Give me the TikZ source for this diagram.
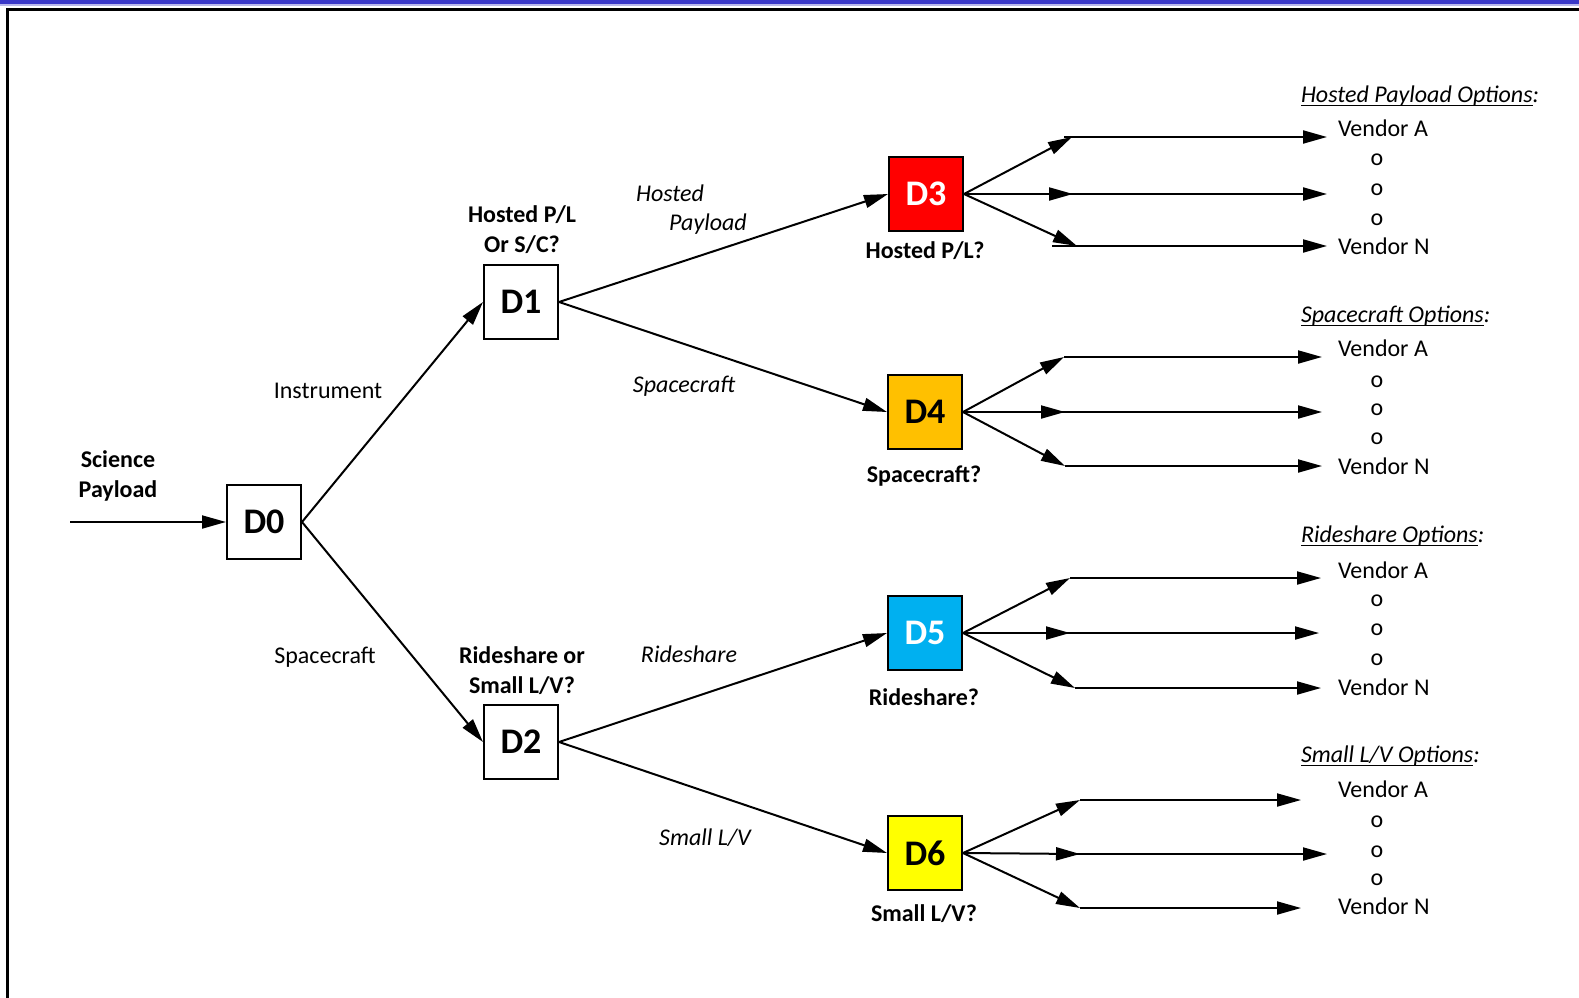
\documentclass[tikz,border=0pt]{standalone}
\usepackage{fontspec}
\setmainfont{Carlito}
\usetikzlibrary{arrows.meta}
\definecolor{barblue}{RGB}{58,56,200}
\definecolor{hostred}{RGB}{255,0,0}
\definecolor{craftorange}{RGB}{255,192,0}
\definecolor{ridecyan}{RGB}{0,176,240}
\definecolor{lvyellow}{RGB}{255,255,0}
\newcommand\optul[1]{\setbox0\hbox{#1}\rlap{\rule[-1.8pt]{\wd0}{0.55pt}}\box0}
\tikzset{
  dbox/.style={draw,line width=1pt,minimum size=37pt,inner sep=0pt,
    font=\fontsize{18}{18}\selectfont\bfseries},
  txt/.style={inner sep=0pt,align=center,font=\fontsize{12}{15}\selectfont},
  btxt/.style={txt,font=\fontsize{12}{15}\selectfont\bfseries},
  itxt/.style={txt,font=\fontsize{12}{15}\selectfont\itshape},
  vtxt/.style={txt,anchor=west},
  head/.style={itxt,anchor=west}
}
\begin{document}
\begin{tikzpicture}[x=0.5pt,y=-0.5pt,line width=1pt,>={Triangle[length=12pt,width=6.5pt]}]
\useasboundingbox (0,0) rectangle (1579,997);
\fill[barblue](0,0)rectangle(1579,4);
\fill[barblue!35](0,4)rectangle(1579,5.5);
\draw[line width=1.4pt](7.5,1020)|-(1600,9.5);
% decision boxes
\node[dbox](D0)at(264,522){D0};
\node[dbox](D1)at(521,302){D1};
\node[dbox](D2)at(521,742){D2};
\node[dbox,fill=hostred,text=white](D3)at(926,194){D3};
\node[dbox,fill=craftorange](D4)at(925,412){D4};
\node[dbox,fill=ridecyan,text=white](D5)at(925,633){D5};
\node[dbox,fill=lvyellow](D6)at(925,853){D6};
\coordinate(in)at(70,522);
\draw[->](in)--(D0);
\draw[->](D0.east)--(D1.west);
\draw[->](D0.east)--(D2.west);
\draw[->](D1.east)--(D3.west);
\draw[->](D1.east)--(D4.west);
\draw[->](D2.east)--(D5.west);
\draw[->](D2.east)--(D6.west);
% labels
\node[btxt](sci)at(118,476){Science\\Payload};
\node[txt](ins)at(328,391){Instrument};
\node[txt](spc)at(325,657){Spacecraft};
\node[btxt](q1)at(522,230){Hosted P/L\\Or S/C?};
\node[btxt](q2)at(522,671){Rideshare or\\Small L/V?};
\node[itxt](hst)at(670,193){Hosted};
\node[itxt](pld)at(708,224){Payload};
\node[itxt](scr)at(684,386){Spacecraft};
\node[itxt](rsh)at(689,654){Rideshare};
\node[itxt](slv)at(705,838){Small L/V};
\node[btxt](q3)at(925,251){Hosted P/L?};
\node[btxt](q4)at(924,476){Spacecraft?};
\node[btxt](q5)at(924,697){Rideshare?};
\node[btxt](q6)at(924,914){Small L/V?};
% vendor fans
\coordinate(t3a)at(1072,137);\coordinate(s3a)at(1064,137);\coordinate(e3a)at(1327,137);
\coordinate(t3b)at(1073,194);\coordinate(s3b)at(1042,194);\coordinate(e3b)at(1327,194);
\coordinate(t3c)at(1077,246);\coordinate(s3c)at(1052,246);\coordinate(e3c)at(1327,246);
\coordinate(t4a)at(1064,357);\coordinate(s4a)at(1064,357);\coordinate(e4a)at(1322,357);
\coordinate(t4b)at(1065,412);\coordinate(s4b)at(1045,412);\coordinate(e4b)at(1322,412);
\coordinate(t4c)at(1065,466);\coordinate(s4c)at(1065,466);\coordinate(e4c)at(1322,466);
\coordinate(t5a)at(1070,578);\coordinate(s5a)at(1070,578);\coordinate(e5a)at(1321,578);
\coordinate(t5b)at(1070,633);\coordinate(s5b)at(1045,633);\coordinate(e5b)at(1319,633);
\coordinate(t5c)at(1075,688);\coordinate(s5c)at(1075,688);\coordinate(e5c)at(1321,688);
\coordinate(t6a)at(1080,800);\coordinate(s6a)at(1080,800);\coordinate(e6a)at(1301,800);
\coordinate(t6b)at(1080,854);\coordinate(s6b)at(1050,854);\coordinate(e6b)at(1327,854);
\coordinate(t6c)at(1080,908);\coordinate(s6c)at(1080,908);\coordinate(e6c)at(1301,908);
\draw[->](D3.east)--(t3a);\draw[->](D3.east)--(t3b);\draw[->](D3.east)--(t3c);
\draw[->](s3a)--(e3a);\draw[->](s3b)--(e3b);\draw[->](s3c)--(e3c);
\draw[->](D4.east)--(t4a);\draw[->](D4.east)--(t4b);\draw[->](D4.east)--(t4c);
\draw[->](s4a)--(e4a);\draw[->](s4b)--(e4b);\draw[->](s4c)--(e4c);
\draw[->](D5.east)--(t5a);\draw[->](D5.east)--(t5b);\draw[->](D5.east)--(t5c);
\draw[->](s5a)--(e5a);\draw[->](s5b)--(e5b);\draw[->](s5c)--(e5c);
\draw[->](D6.east)--(t6a);\draw[->](D6.east)--(t6b);\draw[->](D6.east)--(t6c);
\draw[->](s6a)--(e6a);\draw[->](s6b)--(e6b);\draw[->](s6c)--(e6c);
% option lists
\node[head](h3)at(1300,96){\optul{Hosted Payload Options}:};
\node[vtxt](v3a)at(1337,128){Vendor A};
\node[txt](o3a)at(1377,160){o};\node[txt](o3b)at(1377,190){o};\node[txt](o3c)at(1377,220){o};
\node[vtxt](v3n)at(1337,246){Vendor N};
\node[head](h4)at(1300,316){\optul{Spacecraft Options}:};
\node[vtxt](v4a)at(1337,348){Vendor A};
\node[txt](o4a)at(1377,382){o};\node[txt](o4b)at(1377,410){o};\node[txt](o4c)at(1377,439){o};
\node[vtxt](v4n)at(1337,466){Vendor N};
\node[head](h5)at(1300,536){\optul{Rideshare Options}:};
\node[vtxt](v5a)at(1337,570){Vendor A};
\node[txt](o5a)at(1377,601){o};\node[txt](o5b)at(1377,630){o};\node[txt](o5c)at(1377,660){o};
\node[vtxt](v5n)at(1337,687){Vendor N};
\node[head](h6)at(1300,756){\optul{Small L/V Options}:};
\node[vtxt](v6a)at(1337,789){Vendor A};
\node[txt](o6a)at(1377,822){o};\node[txt](o6b)at(1377,852){o};\node[txt](o6c)at(1377,880){o};
\node[vtxt](v6n)at(1337,906){Vendor N};
\end{tikzpicture}
\end{document}
